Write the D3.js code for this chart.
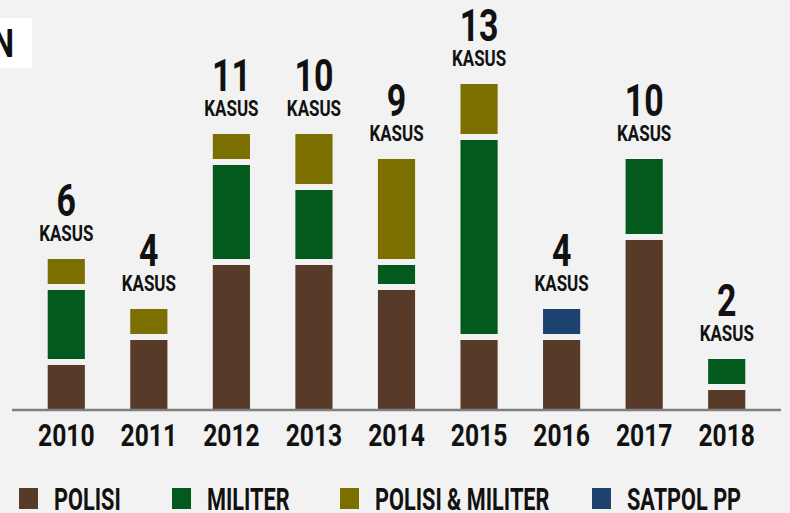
<!DOCTYPE html>
<html>
<head>
<meta charset="utf-8">
<script src="https://cdn.jsdelivr.net/npm/d3@7/dist/d3.min.js"></script>
<style>
  html, body { margin: 0; padding: 0; background: #f2f2f2; }
  svg { display: block; }
  text { font-family: Roboto, "Liberation Sans", sans-serif; font-weight: 700; fill: #111; }
</style>
</head>
<body>
<div id="chart"></div>
<script>
// Data
const years = ["2010", "2011", "2012", "2013", "2014", "2015", "2016", "2017", "2018"];
const polisi = [2, 3, 6, 6, 5, 3, 3, 7, 1];
const militer = [3, 0, 4, 3, 1, 8, 0, 3, 1];
const polisiMiliter = [1, 1, 1, 2, 4, 2, 0, 0, 0];
const satpolPP = [0, 0, 0, 0, 0, 0, 1, 0, 0];
const totalLabels = ["6", "4", "11", "10", "9", "13", "4", "10", "2"];
const seriesNames = ["POLISI", "MILITER", "POLISI & MILITER", "SATPOL PP"];
const seriesColors = ["#573a28", "#035a1c", "#7b6f00", "#1d4270"];

const width = 790, height = 513;
const squeeze = 0.77; // condensed look
const legendSqueeze = 0.7;
const legendX = [19, 172, 340, 592];

const svg = d3.select("#chart")
    .append("svg")
    .attr("width", width)
    .attr("height", height);

svg.append("rect")
    .attr("width", width)
    .attr("height", height)
    .attr("fill", "#f2f2f2");

// Clipped title box in the top-left corner
svg.append("rect")
    .attr("x", -5)
    .attr("y", 18)
    .attr("width", 37)
    .attr("height", 50)
    .attr("fill", "#ffffff");

svg.append("text")
    .attr("text-anchor", "end")
    .attr("transform", "translate(14,57) scale(0.8,1)")
    .style("font-size", "39px")
    .text("N");

// Build stack table
const table = years.map((yr, i) => ({
    year: yr,
    polisi: polisi[i],
    militer: militer[i],
    polisiMiliter: polisiMiliter[i],
    satpolPP: satpolPP[i],
    label: totalLabels[i]
}));
const keys = ["polisi", "militer", "polisiMiliter", "satpolPP"];
const stack = d3.stack().keys(keys)(table);
const totals = table.map(d => keys.reduce((s, k) => s + d[k], 0));

// Scales
const x = d3.scaleBand()
    .domain(years)
    .range([25, 768])
    .paddingInner(0.55)
    .paddingOuter(0.275);

const y = d3.scaleLinear()
    .domain([0, 13])
    .range([409, 84]);

const gap = 6;

// Bars
svg.selectAll(".series")
    .data(stack)
    .join("g")
    .attr("class", "series")
    .attr("fill", (d, i) => seriesColors[i])
    .selectAll("rect")
    .data(d => d.map((seg, i) => ({ seg, i })))
    .join("rect")
    .filter(d => d.seg[1] > d.seg[0])
    .attr("x", d => x(years[d.i]))
    .attr("width", x.bandwidth())
    .attr("y", d => y(d.seg[1]) + (d.seg[1] < totals[d.i] ? gap : 0))
    .attr("height", d => y(d.seg[0]) - y(d.seg[1]) - (d.seg[1] < totals[d.i] ? gap : 0));

// Total labels
const labels = svg.selectAll(".total")
    .data(table)
    .join("g")
    .attr("class", "total");

labels.append("text")
    .attr("text-anchor", "middle")
    .attr("transform", (d, i) => `translate(${x(d.year) + x.bandwidth() / 2},${y(totals[i]) - 43}) scale(${squeeze},1)`)
    .style("font-size", "44px")
    .text(d => d.label);

labels.append("text")
    .attr("text-anchor", "middle")
    .attr("transform", (d, i) => `translate(${x(d.year) + x.bandwidth() / 2},${y(totals[i]) - 18}) scale(${squeeze},1)`)
    .style("font-size", "22px")
    .text("KASUS");

// Baseline
svg.append("line")
    .attr("x1", 12)
    .attr("x2", 781)
    .attr("y1", 410)
    .attr("y2", 410)
    .attr("stroke", "#7f7f7f")
    .attr("stroke-width", 2.5);

// X axis (year labels)
const xAxis = svg.append("g")
    .attr("class", "x-axis")
    .attr("transform", "translate(0,410)")
    .call(d3.axisBottom(x).tickSize(0).tickPadding(13));

xAxis.select(".domain").remove();
xAxis.selectAll("text")
    .attr("fill", "#111")
    .style("font-family", "Roboto, sans-serif")
    .style("font-weight", 700)
    .style("font-size", "32px")
    .attr("transform", `scale(${squeeze},1)`);

// Legend
const legend = svg.append("g").attr("class", "legend");
seriesNames.forEach((name, i) => {
    const item = legend.append("g").attr("transform", `translate(${legendX[i]},0)`);
    item.append("rect")
        .attr("x", 0)
        .attr("y", 488)
        .attr("width", 19)
        .attr("height", 21)
        .attr("fill", seriesColors[i]);
    item.append("text")
        .attr("transform", `translate(35,509.5) scale(${legendSqueeze},1)`)
        .style("font-size", "31px")
        .text(name);
});
</script>
</body>
</html>
